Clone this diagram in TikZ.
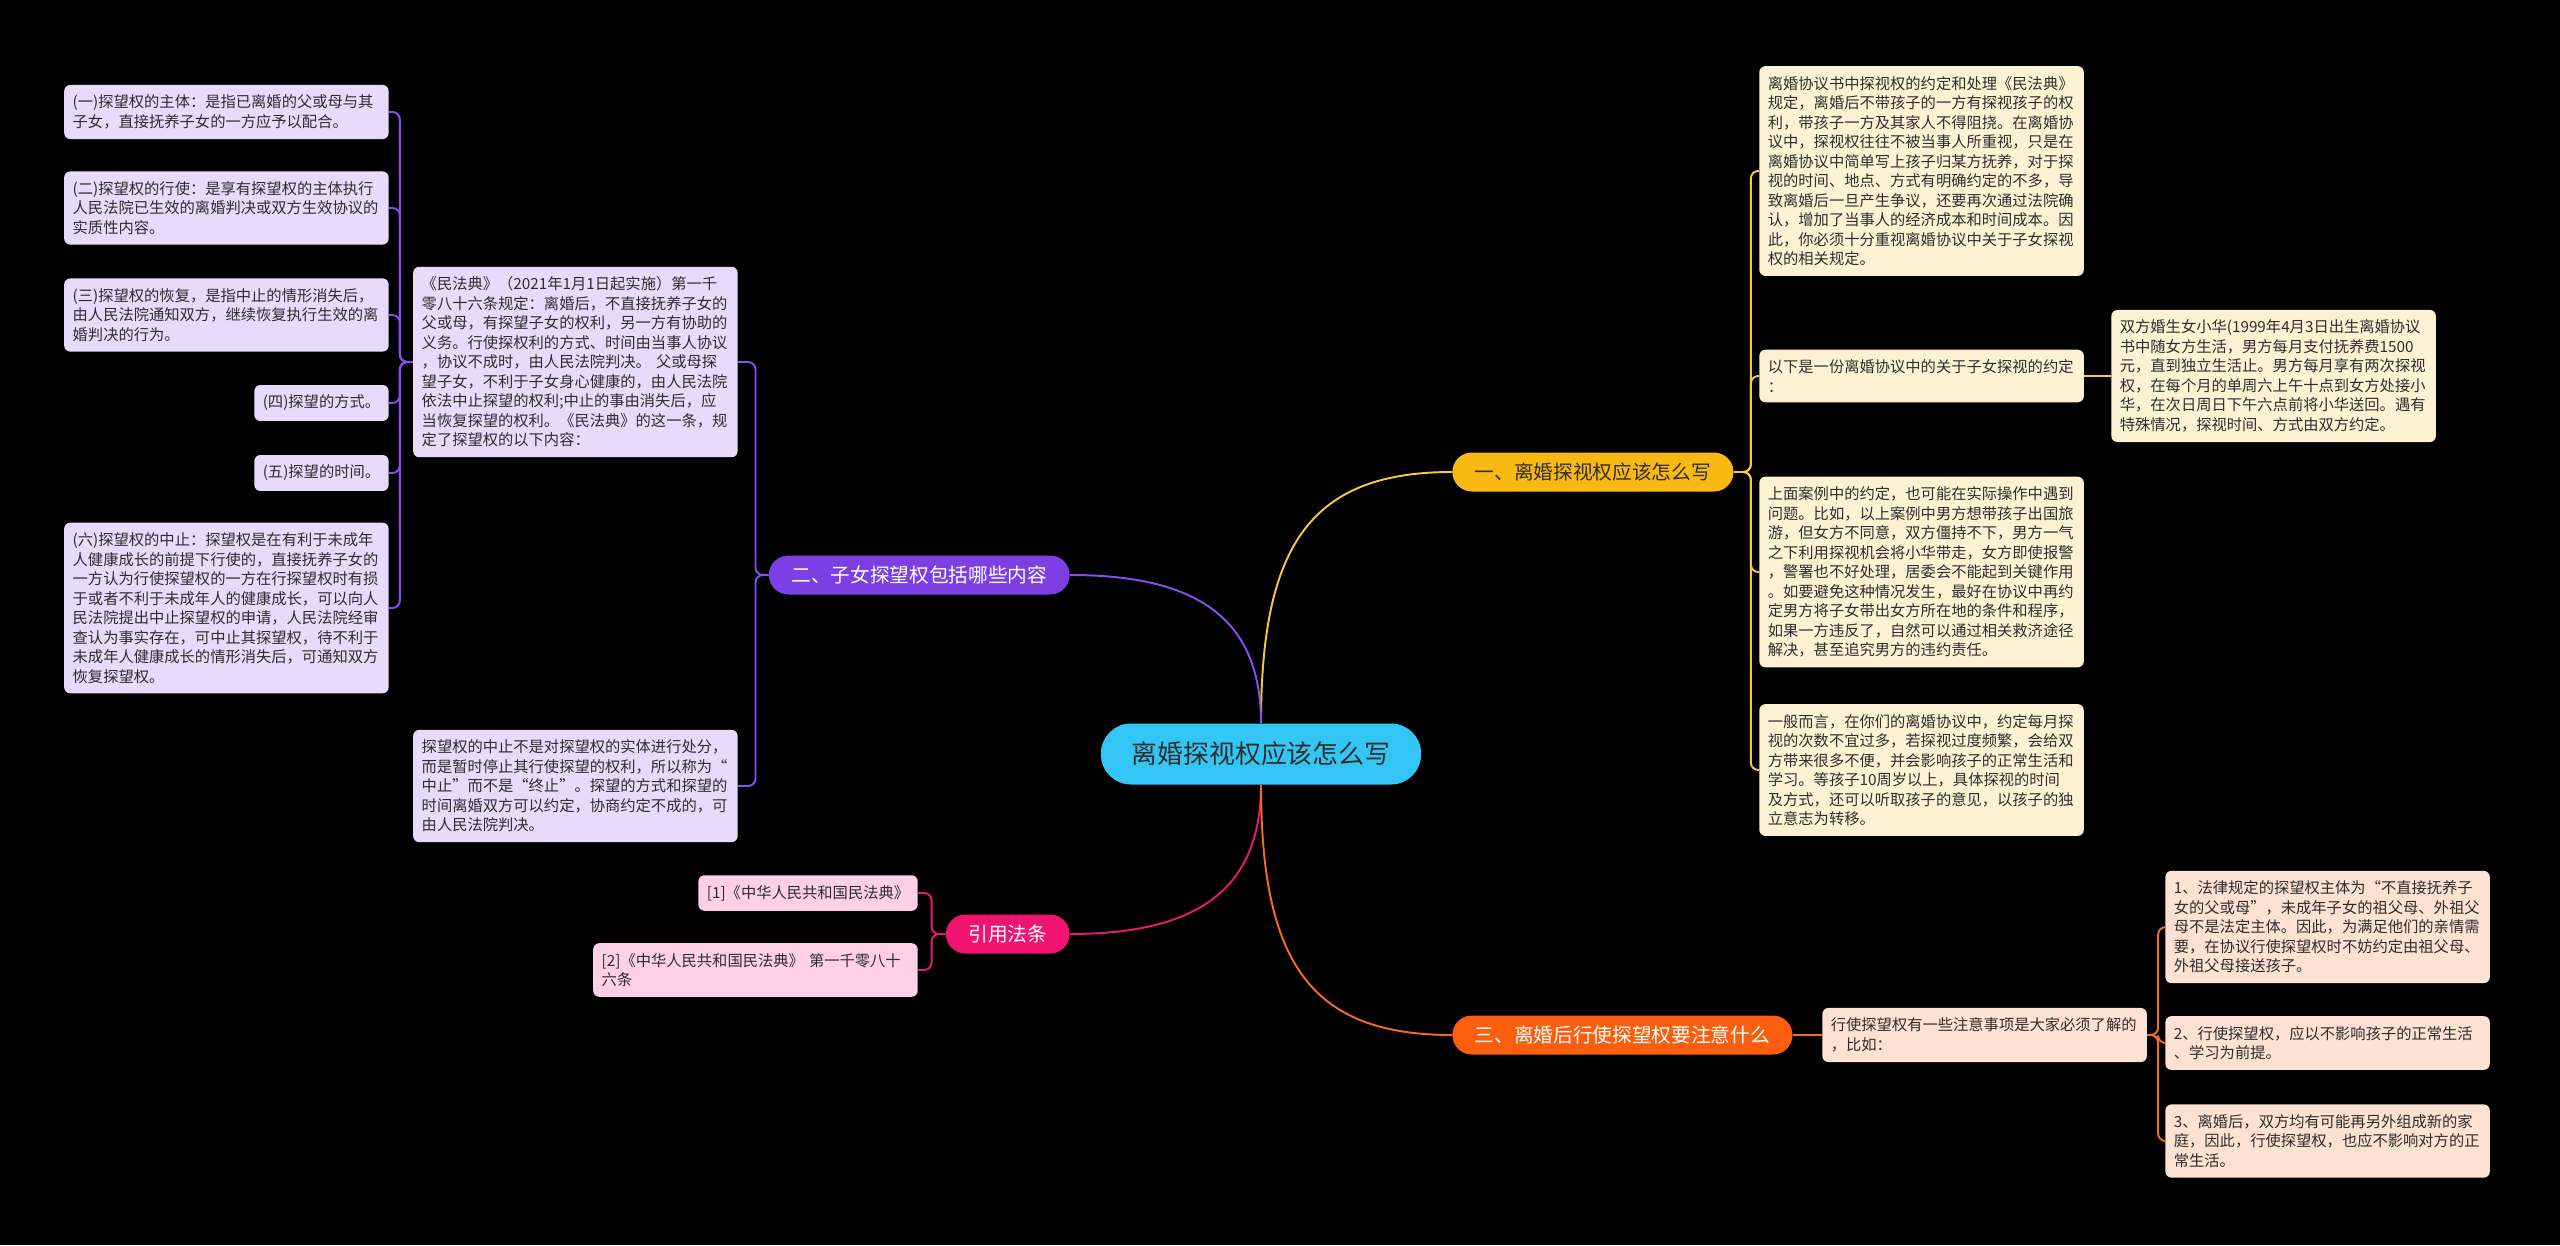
\documentclass[tikz,border=0pt]{standalone}
\usepackage{fontspec}
\newfontfamily\cjk{Noto Sans CJK SC}
\newcommand\leaffont{\cjk\fontsize{8.7pt}{11.1pt}\selectfont}
\newcommand\branchfont{\cjk\fontsize{11.2pt}{13pt}\selectfont}
\newcommand\rootfont{\cjk\fontsize{14.7pt}{17pt}\selectfont}
\definecolor{rootblue}{HTML}{33C5F3}
\definecolor{ylwmain}{HTML}{FAB912}
\definecolor{prpmain}{HTML}{7B3FE4}
\definecolor{pnkmain}{HTML}{F01470}
\definecolor{orgmain}{HTML}{FB5E0E}
\definecolor{ylwedge}{HTML}{F7C844}
\definecolor{prpedge}{HTML}{8A4DF0}
\definecolor{pnkedge}{HTML}{E8196E}
\definecolor{orgedge}{HTML}{F36C21}
\definecolor{ylwleaf}{HTML}{FDF3D3}
\definecolor{prpleaf}{HTML}{E6DBFA}
\definecolor{pnkleaf}{HTML}{FDD0E6}
\definecolor{orgleaf}{HTML}{FDE1D3}
\definecolor{darktext}{HTML}{2E2E2E}
\begin{document}
\begin{tikzpicture}[x=0.02cm,y=-0.02cm,
  root/.style={fill=rootblue,text=darktext,rounded corners=0.6cm,minimum height=1.22cm,inner xsep=0.62cm,font=\rootfont},
  branch/.style={fill=#1,rounded corners=0.39cm,minimum height=0.78cm,inner xsep=0.45cm,font=\branchfont},
  leaf/.style={fill=#1,text=darktext,rounded corners=0.12cm,inner xsep=0.17cm,inner ysep=0.2cm,align=left,font=\leaffont},
  wide/.style={text width=6.15cm},
  link/.style={draw=#1,line width=1.1pt,rounded corners=0.15cm}]
  \fill[black] (0,0) rectangle (2560,1245);

  \node[root] (root) at (1261,754) {离婚探视权应该怎么写};
  \node[branch=ylwmain,text=darktext,anchor=west] (b1) at (1452,472) {一、离婚探视权应该怎么写};
  \node[branch=prpmain,text=white,anchor=east] (b2) at (1070,575) {二、子女探望权包括哪些内容};
  \node[branch=pnkmain,text=white,anchor=east] (b3) at (1070,934) {引用法条};
  \node[branch=orgmain,text=white,anchor=west] (b4) at (1452,1035) {三、离婚后行使探望权要注意什么};

  \node[leaf=ylwleaf,wide,anchor=west] (y1) at (1759,171) {离婚协议书中探视权的约定和处理《民法典》\\规定，离婚后不带孩子的一方有探视孩子的权\\利，带孩子一方及其家人不得阻挠。在离婚协\\议中，探视权往往不被当事人所重视，只是在\\离婚协议中简单写上孩子归某方抚养，对于探\\视的时间、地点、方式有明确约定的不多，导\\致离婚后一旦产生争议，还要再次通过法院确\\认，增加了当事人的经济成本和时间成本。因\\此，你必须十分重视离婚协议中关于子女探视\\权的相关规定。};
  \node[leaf=ylwleaf,wide,anchor=west] (y2) at (1759,376) {以下是一份离婚协议中的关于子女探视的约定\\：};
  \node[leaf=ylwleaf,wide,anchor=west] (y2a) at (2111,376) {双方婚生女小华(1999年4月3日出生离婚协议\\书中随女方生活，男方每月支付抚养费1500\\元，直到独立生活止。男方每月享有两次探视\\权，在每个月的单周六上午十点到女方处接小\\华，在次日周日下午六点前将小华送回。遇有\\特殊情况，探视时间、方式由双方约定。};
  \node[leaf=ylwleaf,wide,anchor=west] (y3) at (1759,572) {上面案例中的约定，也可能在实际操作中遇到\\问题。比如，以上案例中男方想带孩子出国旅\\游，但女方不同意，双方僵持不下，男方一气\\之下利用探视机会将小华带走，女方即使报警\\，警署也不好处理，居委会不能起到关键作用\\。如要避免这种情况发生，最好在协议中再约\\定男方将子女带出女方所在地的条件和程序，\\如果一方违反了，自然可以通过相关救济途径\\解决，甚至追究男方的违约责任。};
  \node[leaf=ylwleaf,wide,anchor=west] (y4) at (1759,770) {一般而言，在你们的离婚协议中，约定每月探\\视的次数不宜过多，若探视过度频繁，会给双\\方带来很多不便，并会影响孩子的正常生活和\\学习。等孩子10周岁以上，具体探视的时间\\及方式，还可以听取孩子的意见，以孩子的独\\立意志为转移。};

  \node[leaf=prpleaf,wide,anchor=east] (p1) at (738,362) {《民法典》（2021年1月1日起实施）第一千\\零八十六条规定：离婚后，不直接抚养子女的\\父或母，有探望子女的权利，另一方有协助的\\义务。行使探权利的方式、时间由当事人协议\\，协议不成时，由人民法院判决。 父或母探\\望子女，不利于子女身心健康的，由人民法院\\依法中止探望的权利;中止的事由消失后，应\\当恢复探望的权利。《民法典》的这一条，规\\定了探望权的以下内容：};
  \node[leaf=prpleaf,wide,anchor=east] (p2) at (738,786) {探望权的中止不是对探望权的实体进行处分，\\而是暂时停止其行使探望的权利，所以称为“\\中止”而不是“终止”。探望的方式和探望的\\时间离婚双方可以约定，协商约定不成的，可\\由人民法院判决。};
  \node[leaf=prpleaf,wide,anchor=east] (pa) at (389,112) {(一)探望权的主体：是指已离婚的父或母与其\\子女，直接抚养子女的一方应予以配合。};
  \node[leaf=prpleaf,wide,anchor=east] (pb) at (389,208) {(二)探望权的行使：是享有探望权的主体执行\\人民法院已生效的离婚判决或双方生效协议的\\实质性内容。};
  \node[leaf=prpleaf,wide,anchor=east] (pc) at (389,315) {(三)探望权的恢复，是指中止的情形消失后，\\由人民法院通知双方，继续恢复执行生效的离\\婚判决的行为。};
  \node[leaf=prpleaf,anchor=east] (pd) at (389,403) {(四)探望的方式。};
  \node[leaf=prpleaf,anchor=east] (pe) at (389,473) {(五)探望的时间。};
  \node[leaf=prpleaf,wide,anchor=east] (pf) at (389,608) {(六)探望权的中止：探望权是在有利于未成年\\人健康成长的前提下行使的，直接抚养子女的\\一方认为行使探望权的一方在行探望权时有损\\于或者不利于未成年人的健康成长，可以向人\\民法院提出中止探望权的申请，人民法院经审\\查认为事实存在，可中止其探望权，待不利于\\未成年人健康成长的情形消失后，可通知双方\\恢复探望权。};

  \node[leaf=pnkleaf,anchor=east] (k1) at (918,893) {[1]《中华人民共和国民法典》};
  \node[leaf=pnkleaf,wide,anchor=east] (k2) at (918,970) {[2]《中华人民共和国民法典》 第一千零八十\\六条};

  \node[leaf=orgleaf,wide,anchor=west] (o1) at (1822,1035) {行使探望权有一些注意事项是大家必须了解的\\，比如：};
  \node[leaf=orgleaf,wide,anchor=west] (oa) at (2165,927) {1、法律规定的探望权主体为“不直接抚养子\\女的父或母”，未成年子女的祖父母、外祖父\\母不是法定主体。因此，为满足他们的亲情需\\要，在协议行使探望权时不妨约定由祖父母、\\外祖父母接送孩子。};
  \node[leaf=orgleaf,wide,anchor=west] (ob) at (2165,1043) {2、行使探望权，应以不影响孩子的正常生活\\、学习为前提。};
  \node[leaf=orgleaf,wide,anchor=west] (oc) at (2165,1141) {3、离婚后，双方均有可能再另外组成新的家\\庭，因此，行使探望权，也应不影响对方的正\\常生活。};

  \draw[link=ylwedge] (root.north) .. controls +(0,-180) and +(-140,0) .. (b1.west);
  \draw[link=prpedge] (root.north) .. controls +(0,-110) and +(120,0) .. (b2.east);
  \draw[link=pnkedge] (root.south) .. controls +(0,110) and +(120,0) .. (b3.east);
  \draw[link=orgedge] (root.south) .. controls +(0,180) and +(-140,0) .. (b4.west);

  \foreach \c in {y1,y2,y3,y4} \draw[link=ylwedge] (b1.east) -- ++(17,0) |- (\c.west);
  \draw[link=ylwedge] (y2.east) -- (y2a.west);
  \foreach \c in {p1,p2} \draw[link=prpedge] (b2.west) -- ++(-13,0) |- (\c.east);
  \foreach \c in {pa,pb,pc,pd,pe,pf} \draw[link=prpedge] (p1.west) -- ++(-13,0) |- (\c.east);
  \foreach \c in {k1,k2} \draw[link=pnkedge] (b3.west) -- ++(-14,0) |- (\c.east);
  \draw[link=orgedge] (b4.east) -- (o1.west);
  \foreach \c in {oa,ob,oc} \draw[link=orgedge] (o1.east) -- ++(11,0) |- (\c.west);
\end{tikzpicture}
\end{document}
